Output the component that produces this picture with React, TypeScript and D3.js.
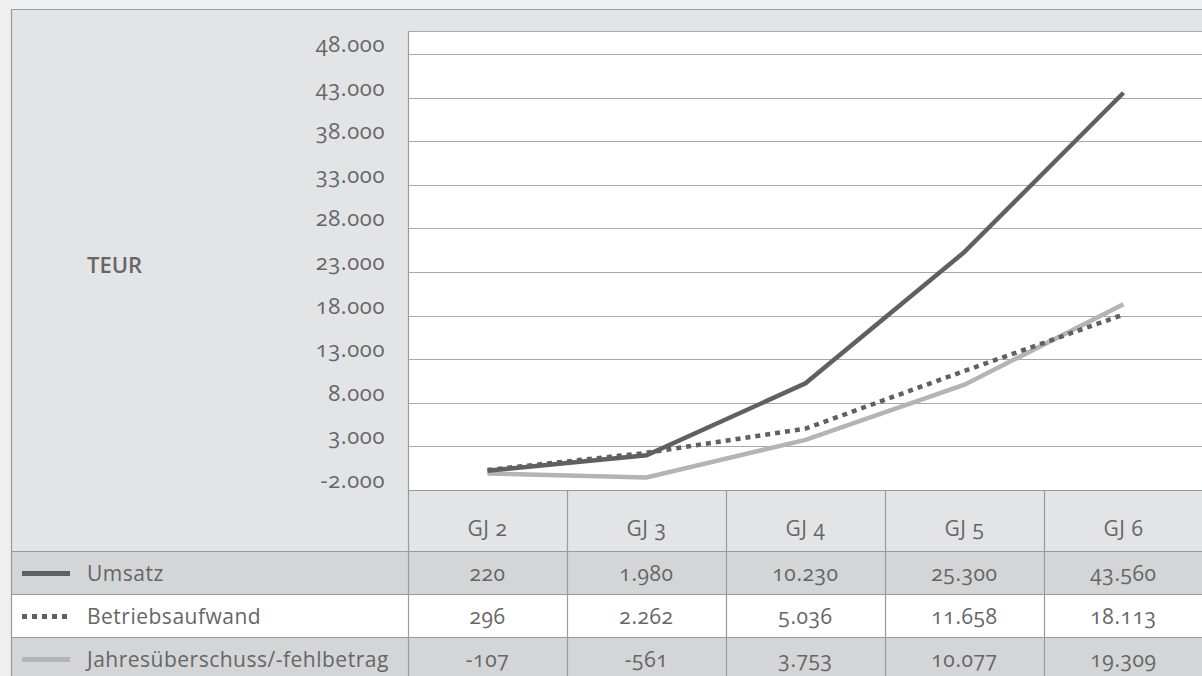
import React from "react";
import * as d3 from "d3";

const categories = ["GJ 2", "GJ 3", "GJ 4", "GJ 5", "GJ 6"];
const umsatz = [220, 1980, 10230, 25300, 43560];
const betriebsaufwand = [296, 2262, 5036, 11658, 18113];
const jahresueberschuss = [-107, -561, 3753, 10077, 19309];
const seriesNames = ["Umsatz", "Betriebsaufwand", "Jahresüberschuss/-fehlbetrag"];
const yTicks = [-2000, 3000, 8000, 13000, 18000, 23000, 28000, 33000, 38000, 43000, 48000];
const unitLabel = "TEUR";

const W = 1202;
const H = 676;
const FONT = "'Open Sans', 'DejaVu Sans', sans-serif";

const de = d3.formatLocale({ decimal: ",", thousands: ".", grouping: [3], currency: ["", " €"], minus: "-" });
const fmt = de.format(",d");

export default function App() {
  const boxX = 11;
  const boxY = 9;
  const plotLeft = 408;
  const plotRight = 1203;
  const plotTop = 31;
  const plotBottom = 490;
  const headerBottom = 551;
  const rowH = 43;

  const x = d3.scaleBand<string>().domain(categories).range([plotLeft, plotRight]).padding(0);
  const y = d3.scaleLinear().domain([-2000, 48000]).range([plotBottom, 54]);
  const cx = (c: string) => (x(c) as number) + x.bandwidth() / 2;

  const series = [
    { name: seriesNames[0], values: umsatz, color: "#606060", dash: null as string | null, rowFill: "#d4d5d7" },
    { name: seriesNames[1], values: betriebsaufwand, color: "#606060", dash: "5,5", rowFill: "#ffffff" },
    { name: seriesNames[2], values: jahresueberschuss, color: "#b4b4b4", dash: null as string | null, rowFill: "#d4d5d7" },
  ];

  const line = d3
    .line<number>()
    .x((_, i) => cx(categories[i]))
    .y((d) => y(d));

  const textColor = "#666666";
  const gridColor = "#a9a9a9";
  const borderColor = "#9a9a9a";
  const numStyle = { fontVariantNumeric: "oldstyle-nums" } as React.CSSProperties;

  return (
    <svg
      width={W}
      height={H}
      style={{ position: "absolute", left: 0, top: 0, display: "block" }}
      fontFamily={FONT}
    >
      <rect x={0} y={0} width={W} height={H} fill="#efefef" />
      <rect x={boxX + 0.5} y={boxY + 0.5} width={W} height={H} fill="#e3e4e6" stroke={borderColor} strokeWidth={1} />

      {/* plot area */}
      <rect x={plotLeft} y={plotTop} width={plotRight - plotLeft + 5} height={plotBottom - plotTop} fill="#ffffff" />
      <line x1={plotLeft} x2={W} y1={plotTop + 0.5} y2={plotTop + 0.5} stroke={gridColor} strokeWidth={1.2} />
      {yTicks.map((t) => (
        <g key={t}>
          <line x1={plotLeft} x2={W} y1={Math.round(y(t)) + 0.5} y2={Math.round(y(t)) + 0.5} stroke={gridColor} strokeWidth={1.2} />
          <text
            x={385}
            y={y(t) - 2}
            textAnchor="end"
            fontSize={22}
            letterSpacing={0.6}
            fill={textColor}
            style={numStyle}
          >
            {fmt(t)}
          </text>
        </g>
      ))}

      <text x={87} y={273} fontSize={22} fontWeight={600} fill={textColor}>
        {unitLabel}
      </text>

      {/* table rows */}
      {series.map((s, i) => (
        <rect key={s.name} x={boxX + 1} y={headerBottom + i * rowH} width={W} height={rowH} fill={s.rowFill} />
      ))}
      {[plotBottom, headerBottom, headerBottom + rowH, headerBottom + 2 * rowH].map((yy, i) => (
        <line key={i} x1={i === 0 ? plotLeft : boxX} x2={W} y1={yy + 0.5} y2={yy + 0.5} stroke={borderColor} strokeWidth={1.2} />
      ))}
      <line x1={boxX + 0.5} x2={boxX + 0.5} y1={boxY} y2={H} stroke={borderColor} strokeWidth={1.2} />
      <line x1={plotLeft + 0.5} x2={plotLeft + 0.5} y1={plotTop} y2={H} stroke={borderColor} strokeWidth={1.2} />
      {categories.slice(1).map((c) => (
        <line key={c} x1={(x(c) as number) + 0.5} x2={(x(c) as number) + 0.5} y1={plotBottom} y2={H} stroke={borderColor} strokeWidth={1.2} />
      ))}

      {/* header labels */}
      {categories.map((c) => (
        <text
          key={c}
          x={cx(c)}
          y={536}
          textAnchor="middle"
          fontSize={21}
          letterSpacing={0.6}
          fill={textColor}
          style={numStyle}
        >
          {c}
        </text>
      ))}

      {/* rows: legend + values */}
      {series.map((s, i) => {
        const rowMid = headerBottom + i * rowH + rowH / 2;
        return (
          <g key={s.name}>
            <line
              x1={22}
              x2={70}
              y1={rowMid + 1}
              y2={rowMid + 1}
              stroke={s.color}
              strokeWidth={5}
              strokeDasharray={s.dash ?? undefined}
            />
            <text x={87} y={rowMid + 8.5} fontSize={21} letterSpacing={0.5} fill={textColor}>
              {s.name}
            </text>
            {s.values.map((v, j) => (
              <text
                key={j}
                x={cx(categories[j])}
                y={rowMid + 8.5}
                textAnchor="middle"
                fontSize={21}
                letterSpacing={0.6}
                fill={textColor}
                style={numStyle}
              >
                {fmt(v)}
              </text>
            ))}
          </g>
        );
      })}

      {/* lines */}
      {series
        .slice()
        .reverse()
        .map((s) => (
          <path
            key={s.name}
            d={line(s.values) ?? ""}
            fill="none"
            stroke={s.color}
            strokeWidth={4.5}
            strokeDasharray={s.dash ?? undefined}
            strokeLinejoin="miter"
          />
        ))}
    </svg>
  );
}
